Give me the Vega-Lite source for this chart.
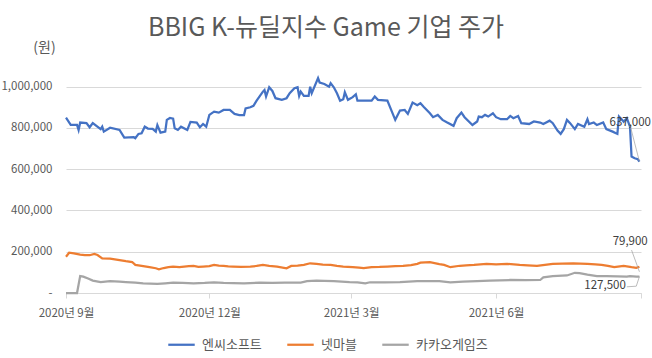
{
  "$schema": "https://vega.github.io/schema/vega-lite/v6.json",
  "width": 575,
  "height": 227,
  "autosize": {"type": "none"},
  "padding": {"left": 66, "top": 66, "right": 11, "bottom": 65},
  "background": "white",
  "config": {
    "font": "Noto Sans CJK KR",
    "view": {"stroke": null}
  },
  "title": {
    "text": "BBIG K-뉴딜지수 Game 기업 주가",
    "fontSize": 25,
    "fontWeight": "normal",
    "color": "#595959",
    "anchor": "middle",
    "frame": "group",
    "dx": -27.5,
    "dy": 5
  },
  "datasets": {
    "stocks": [
      {"d": "2020-09-01", "s": "엔씨소프트", "v": 850000},
      {"d": "2020-09-04", "s": "엔씨소프트", "v": 815000},
      {"d": "2020-09-08", "s": "엔씨소프트", "v": 815000},
      {"d": "2020-09-09", "s": "엔씨소프트", "v": 790000},
      {"d": "2020-09-10", "s": "엔씨소프트", "v": 826000},
      {"d": "2020-09-14", "s": "엔씨소프트", "v": 823000},
      {"d": "2020-09-16", "s": "엔씨소프트", "v": 803000},
      {"d": "2020-09-18", "s": "엔씨소프트", "v": 823000},
      {"d": "2020-09-23", "s": "엔씨소프트", "v": 794000},
      {"d": "2020-09-24", "s": "엔씨소프트", "v": 806000},
      {"d": "2020-09-25", "s": "엔씨소프트", "v": 782000},
      {"d": "2020-09-29", "s": "엔씨소프트", "v": 801000},
      {"d": "2020-10-05", "s": "엔씨소프트", "v": 790000},
      {"d": "2020-10-08", "s": "엔씨소프트", "v": 753000},
      {"d": "2020-10-14", "s": "엔씨소프트", "v": 755000},
      {"d": "2020-10-15", "s": "엔씨소프트", "v": 750000},
      {"d": "2020-10-17", "s": "엔씨소프트", "v": 771000},
      {"d": "2020-10-19", "s": "엔씨소프트", "v": 774000},
      {"d": "2020-10-21", "s": "엔씨소프트", "v": 806000},
      {"d": "2020-10-23", "s": "엔씨소프트", "v": 797000},
      {"d": "2020-10-26", "s": "엔씨소프트", "v": 795000},
      {"d": "2020-10-28", "s": "엔씨소프트", "v": 782000},
      {"d": "2020-10-29", "s": "엔씨소프트", "v": 814000},
      {"d": "2020-10-31", "s": "엔씨소프트", "v": 777000},
      {"d": "2020-11-03", "s": "엔씨소프트", "v": 782000},
      {"d": "2020-11-04", "s": "엔씨소프트", "v": 839000},
      {"d": "2020-11-06", "s": "엔씨소프트", "v": 848000},
      {"d": "2020-11-08", "s": "엔씨소프트", "v": 845000},
      {"d": "2020-11-09", "s": "엔씨소프트", "v": 798000},
      {"d": "2020-11-11", "s": "엔씨소프트", "v": 790000},
      {"d": "2020-11-13", "s": "엔씨소프트", "v": 806000},
      {"d": "2020-11-17", "s": "엔씨소프트", "v": 790000},
      {"d": "2020-11-19", "s": "엔씨소프트", "v": 829000},
      {"d": "2020-11-23", "s": "엔씨소프트", "v": 826000},
      {"d": "2020-11-25", "s": "엔씨소프트", "v": 803000},
      {"d": "2020-11-27", "s": "엔씨소프트", "v": 819000},
      {"d": "2020-11-29", "s": "엔씨소프트", "v": 806000},
      {"d": "2020-12-01", "s": "엔씨소프트", "v": 863000},
      {"d": "2020-12-04", "s": "엔씨소프트", "v": 879000},
      {"d": "2020-12-07", "s": "엔씨소프트", "v": 874000},
      {"d": "2020-12-10", "s": "엔씨소프트", "v": 887000},
      {"d": "2020-12-14", "s": "엔씨소프트", "v": 887000},
      {"d": "2020-12-17", "s": "엔씨소프트", "v": 868000},
      {"d": "2020-12-20", "s": "엔씨소프트", "v": 862000},
      {"d": "2020-12-23", "s": "엔씨소프트", "v": 862000},
      {"d": "2020-12-24", "s": "엔씨소프트", "v": 894000},
      {"d": "2020-12-27", "s": "엔씨소프트", "v": 900000},
      {"d": "2020-12-29", "s": "엔씨소프트", "v": 907000},
      {"d": "2020-12-31", "s": "엔씨소프트", "v": 932000},
      {"d": "2021-01-04", "s": "엔씨소프트", "v": 976000},
      {"d": "2021-01-05", "s": "엔씨소프트", "v": 984000},
      {"d": "2021-01-06", "s": "엔씨소프트", "v": 952000},
      {"d": "2021-01-08", "s": "엔씨소프트", "v": 997000},
      {"d": "2021-01-10", "s": "엔씨소프트", "v": 979000},
      {"d": "2021-01-12", "s": "엔씨소프트", "v": 944000},
      {"d": "2021-01-16", "s": "엔씨소프트", "v": 936000},
      {"d": "2021-01-19", "s": "엔씨소프트", "v": 944000},
      {"d": "2021-01-21", "s": "엔씨소프트", "v": 968000},
      {"d": "2021-01-24", "s": "엔씨소프트", "v": 992000},
      {"d": "2021-01-26", "s": "엔씨소프트", "v": 997000},
      {"d": "2021-01-27", "s": "엔씨소프트", "v": 955000},
      {"d": "2021-01-28", "s": "엔씨소프트", "v": 976000},
      {"d": "2021-01-30", "s": "엔씨소프트", "v": 955000},
      {"d": "2021-02-02", "s": "엔씨소프트", "v": 955000},
      {"d": "2021-02-03", "s": "엔씨소프트", "v": 1000000},
      {"d": "2021-02-04", "s": "엔씨소프트", "v": 968000},
      {"d": "2021-02-08", "s": "엔씨소프트", "v": 1041000},
      {"d": "2021-02-09", "s": "엔씨소프트", "v": 1020000},
      {"d": "2021-02-12", "s": "엔씨소프트", "v": 1013000},
      {"d": "2021-02-15", "s": "엔씨소프트", "v": 1000000},
      {"d": "2021-02-16", "s": "엔씨소프트", "v": 1017000},
      {"d": "2021-02-18", "s": "엔씨소프트", "v": 997000},
      {"d": "2021-02-20", "s": "엔씨소프트", "v": 968000},
      {"d": "2021-02-22", "s": "엔씨소프트", "v": 932000},
      {"d": "2021-02-24", "s": "엔씨소프트", "v": 939000},
      {"d": "2021-02-25", "s": "엔씨소프트", "v": 973000},
      {"d": "2021-02-27", "s": "엔씨소프트", "v": 936000},
      {"d": "2021-03-02", "s": "엔씨소프트", "v": 949000},
      {"d": "2021-03-04", "s": "엔씨소프트", "v": 963000},
      {"d": "2021-03-05", "s": "엔씨소프트", "v": 932000},
      {"d": "2021-03-11", "s": "엔씨소프트", "v": 932000},
      {"d": "2021-03-14", "s": "엔씨소프트", "v": 932000},
      {"d": "2021-03-16", "s": "엔씨소프트", "v": 952000},
      {"d": "2021-03-18", "s": "엔씨소프트", "v": 936000},
      {"d": "2021-03-24", "s": "엔씨소프트", "v": 932000},
      {"d": "2021-03-29", "s": "엔씨소프트", "v": 839000},
      {"d": "2021-04-01", "s": "엔씨소프트", "v": 884000},
      {"d": "2021-04-04", "s": "엔씨소프트", "v": 887000},
      {"d": "2021-04-06", "s": "엔씨소프트", "v": 868000},
      {"d": "2021-04-09", "s": "엔씨소프트", "v": 923000},
      {"d": "2021-04-12", "s": "엔씨소프트", "v": 910000},
      {"d": "2021-04-14", "s": "엔씨소프트", "v": 920000},
      {"d": "2021-04-16", "s": "엔씨소프트", "v": 903000},
      {"d": "2021-04-20", "s": "엔씨소프트", "v": 871000},
      {"d": "2021-04-22", "s": "엔씨소프트", "v": 852000},
      {"d": "2021-04-25", "s": "엔씨소프트", "v": 863000},
      {"d": "2021-04-28", "s": "엔씨소프트", "v": 839000},
      {"d": "2021-05-01", "s": "엔씨소프트", "v": 826000},
      {"d": "2021-05-05", "s": "엔씨소프트", "v": 810000},
      {"d": "2021-05-07", "s": "엔씨소프트", "v": 847000},
      {"d": "2021-05-10", "s": "엔씨소프트", "v": 874000},
      {"d": "2021-05-12", "s": "엔씨소프트", "v": 852000},
      {"d": "2021-05-17", "s": "엔씨소프트", "v": 814000},
      {"d": "2021-05-20", "s": "엔씨소프트", "v": 831000},
      {"d": "2021-05-21", "s": "엔씨소프트", "v": 855000},
      {"d": "2021-05-23", "s": "엔씨소프트", "v": 852000},
      {"d": "2021-05-25", "s": "엔씨소프트", "v": 863000},
      {"d": "2021-05-27", "s": "엔씨소프트", "v": 855000},
      {"d": "2021-05-30", "s": "엔씨소프트", "v": 871000},
      {"d": "2021-06-01", "s": "엔씨소프트", "v": 852000},
      {"d": "2021-06-04", "s": "엔씨소프트", "v": 842000},
      {"d": "2021-06-08", "s": "엔씨소프트", "v": 842000},
      {"d": "2021-06-10", "s": "엔씨소프트", "v": 858000},
      {"d": "2021-06-12", "s": "엔씨소프트", "v": 847000},
      {"d": "2021-06-15", "s": "엔씨소프트", "v": 858000},
      {"d": "2021-06-17", "s": "엔씨소프트", "v": 823000},
      {"d": "2021-06-22", "s": "엔씨소프트", "v": 819000},
      {"d": "2021-06-25", "s": "엔씨소프트", "v": 831000},
      {"d": "2021-06-29", "s": "엔씨소프트", "v": 826000},
      {"d": "2021-07-01", "s": "엔씨소프트", "v": 819000},
      {"d": "2021-07-05", "s": "엔씨소프트", "v": 835000},
      {"d": "2021-07-07", "s": "엔씨소프트", "v": 823000},
      {"d": "2021-07-10", "s": "엔씨소프트", "v": 787000},
      {"d": "2021-07-12", "s": "엔씨소프트", "v": 771000},
      {"d": "2021-07-14", "s": "엔씨소프트", "v": 794000},
      {"d": "2021-07-16", "s": "엔씨소프트", "v": 839000},
      {"d": "2021-07-18", "s": "엔씨소프트", "v": 823000},
      {"d": "2021-07-21", "s": "엔씨소프트", "v": 794000},
      {"d": "2021-07-23", "s": "엔씨소프트", "v": 819000},
      {"d": "2021-07-27", "s": "엔씨소프트", "v": 806000},
      {"d": "2021-07-29", "s": "엔씨소프트", "v": 842000},
      {"d": "2021-07-30", "s": "엔씨소프트", "v": 819000},
      {"d": "2021-08-02", "s": "엔씨소프트", "v": 826000},
      {"d": "2021-08-04", "s": "엔씨소프트", "v": 814000},
      {"d": "2021-08-08", "s": "엔씨소프트", "v": 826000},
      {"d": "2021-08-10", "s": "엔씨소프트", "v": 794000},
      {"d": "2021-08-14", "s": "엔씨소프트", "v": 782000},
      {"d": "2021-08-17", "s": "엔씨소프트", "v": 771000},
      {"d": "2021-08-18", "s": "엔씨소프트", "v": 855000},
      {"d": "2021-08-20", "s": "엔씨소프트", "v": 839000},
      {"d": "2021-08-21", "s": "엔씨소프트", "v": 830000},
      {"d": "2021-08-23", "s": "엔씨소프트", "v": 847000},
      {"d": "2021-08-25", "s": "엔씨소프트", "v": 806000},
      {"d": "2021-08-26", "s": "엔씨소프트", "v": 661000},
      {"d": "2021-08-28", "s": "엔씨소프트", "v": 653000},
      {"d": "2021-08-30", "s": "엔씨소프트", "v": 648000},
      {"d": "2021-08-31", "s": "엔씨소프트", "v": 637000},

      {"d": "2020-09-01", "s": "넷마블", "v": 176000},
      {"d": "2020-09-03", "s": "넷마블", "v": 195000},
      {"d": "2020-09-06", "s": "넷마블", "v": 192000},
      {"d": "2020-09-10", "s": "넷마블", "v": 186000},
      {"d": "2020-09-13", "s": "넷마블", "v": 184000},
      {"d": "2020-09-16", "s": "넷마블", "v": 183000},
      {"d": "2020-09-19", "s": "넷마블", "v": 189000},
      {"d": "2020-09-21", "s": "넷마블", "v": 184000},
      {"d": "2020-09-24", "s": "넷마블", "v": 168000},
      {"d": "2020-09-29", "s": "넷마블", "v": 166000},
      {"d": "2020-10-04", "s": "넷마블", "v": 160000},
      {"d": "2020-10-09", "s": "넷마블", "v": 154000},
      {"d": "2020-10-13", "s": "넷마블", "v": 150000},
      {"d": "2020-10-15", "s": "넷마블", "v": 136000},
      {"d": "2020-10-19", "s": "넷마블", "v": 131000},
      {"d": "2020-10-24", "s": "넷마블", "v": 125000},
      {"d": "2020-10-28", "s": "넷마블", "v": 120000},
      {"d": "2020-10-30", "s": "넷마블", "v": 115000},
      {"d": "2020-11-02", "s": "넷마블", "v": 121000},
      {"d": "2020-11-05", "s": "넷마블", "v": 125000},
      {"d": "2020-11-08", "s": "넷마블", "v": 128000},
      {"d": "2020-11-12", "s": "넷마블", "v": 126000},
      {"d": "2020-11-15", "s": "넷마블", "v": 128000},
      {"d": "2020-11-18", "s": "넷마블", "v": 130000},
      {"d": "2020-11-21", "s": "넷마블", "v": 131000},
      {"d": "2020-11-24", "s": "넷마블", "v": 127000},
      {"d": "2020-11-27", "s": "넷마블", "v": 128000},
      {"d": "2020-12-01", "s": "넷마블", "v": 130000},
      {"d": "2020-12-04", "s": "넷마블", "v": 136000},
      {"d": "2020-12-07", "s": "넷마블", "v": 133000},
      {"d": "2020-12-10", "s": "넷마블", "v": 131000},
      {"d": "2020-12-13", "s": "넷마블", "v": 129000},
      {"d": "2020-12-16", "s": "넷마블", "v": 128000},
      {"d": "2020-12-21", "s": "넷마블", "v": 127000},
      {"d": "2020-12-27", "s": "넷마블", "v": 128000},
      {"d": "2020-12-31", "s": "넷마블", "v": 131000},
      {"d": "2021-01-04", "s": "넷마블", "v": 136000},
      {"d": "2021-01-08", "s": "넷마블", "v": 132000},
      {"d": "2021-01-13", "s": "넷마블", "v": 128000},
      {"d": "2021-01-19", "s": "넷마블", "v": 120000},
      {"d": "2021-01-22", "s": "넷마블", "v": 131000},
      {"d": "2021-01-26", "s": "넷마블", "v": 133000},
      {"d": "2021-01-30", "s": "넷마블", "v": 136000},
      {"d": "2021-02-03", "s": "넷마블", "v": 144000},
      {"d": "2021-02-07", "s": "넷마블", "v": 141000},
      {"d": "2021-02-11", "s": "넷마블", "v": 137000},
      {"d": "2021-02-16", "s": "넷마블", "v": 136000},
      {"d": "2021-02-20", "s": "넷마블", "v": 131000},
      {"d": "2021-02-24", "s": "넷마블", "v": 128000},
      {"d": "2021-03-02", "s": "넷마블", "v": 125000},
      {"d": "2021-03-06", "s": "넷마블", "v": 123000},
      {"d": "2021-03-09", "s": "넷마블", "v": 120000},
      {"d": "2021-03-14", "s": "넷마블", "v": 125000},
      {"d": "2021-03-19", "s": "넷마블", "v": 126000},
      {"d": "2021-03-24", "s": "넷마블", "v": 128000},
      {"d": "2021-03-29", "s": "넷마블", "v": 130000},
      {"d": "2021-04-03", "s": "넷마블", "v": 131000},
      {"d": "2021-04-08", "s": "넷마블", "v": 135000},
      {"d": "2021-04-12", "s": "넷마블", "v": 141000},
      {"d": "2021-04-14", "s": "넷마블", "v": 147000},
      {"d": "2021-04-20", "s": "넷마블", "v": 150000},
      {"d": "2021-04-26", "s": "넷마블", "v": 140000},
      {"d": "2021-04-29", "s": "넷마블", "v": 136000},
      {"d": "2021-05-03", "s": "넷마블", "v": 125000},
      {"d": "2021-05-09", "s": "넷마블", "v": 132000},
      {"d": "2021-05-13", "s": "넷마블", "v": 134000},
      {"d": "2021-05-18", "s": "넷마블", "v": 136000},
      {"d": "2021-05-26", "s": "넷마블", "v": 141000},
      {"d": "2021-06-01", "s": "넷마블", "v": 139000},
      {"d": "2021-06-08", "s": "넷마블", "v": 141000},
      {"d": "2021-06-16", "s": "넷마블", "v": 136000},
      {"d": "2021-06-21", "s": "넷마블", "v": 134000},
      {"d": "2021-06-27", "s": "넷마블", "v": 131000},
      {"d": "2021-07-02", "s": "넷마블", "v": 136000},
      {"d": "2021-07-07", "s": "넷마블", "v": 141000},
      {"d": "2021-07-13", "s": "넷마블", "v": 142000},
      {"d": "2021-07-20", "s": "넷마블", "v": 144000},
      {"d": "2021-07-29", "s": "넷마블", "v": 141000},
      {"d": "2021-08-03", "s": "넷마블", "v": 139000},
      {"d": "2021-08-07", "s": "넷마블", "v": 136000},
      {"d": "2021-08-11", "s": "넷마블", "v": 131000},
      {"d": "2021-08-15", "s": "넷마블", "v": 125000},
      {"d": "2021-08-21", "s": "넷마블", "v": 131000},
      {"d": "2021-08-26", "s": "넷마블", "v": 125000},
      {"d": "2021-08-29", "s": "넷마블", "v": 122000},
      {"d": "2021-08-31", "s": "넷마블", "v": 127500},

      {"d": "2020-09-01", "s": "카카오게임즈", "v": 0},
      {"d": "2020-09-08", "s": "카카오게임즈", "v": 0},
      {"d": "2020-09-10", "s": "카카오게임즈", "v": 82000},
      {"d": "2020-09-12", "s": "카카오게임즈", "v": 79000},
      {"d": "2020-09-15", "s": "카카오게임즈", "v": 70000},
      {"d": "2020-09-18", "s": "카카오게임즈", "v": 60000},
      {"d": "2020-09-23", "s": "카카오게임즈", "v": 53000},
      {"d": "2020-09-29", "s": "카카오게임즈", "v": 58000},
      {"d": "2020-10-05", "s": "카카오게임즈", "v": 55000},
      {"d": "2020-10-09", "s": "카카오게임즈", "v": 53000},
      {"d": "2020-10-15", "s": "카카오게임즈", "v": 50000},
      {"d": "2020-10-20", "s": "카카오게임즈", "v": 47000},
      {"d": "2020-10-29", "s": "카카오게임즈", "v": 44000},
      {"d": "2020-11-03", "s": "카카오게임즈", "v": 47000},
      {"d": "2020-11-08", "s": "카카오게임즈", "v": 50000},
      {"d": "2020-11-14", "s": "카카오게임즈", "v": 49000},
      {"d": "2020-11-21", "s": "카카오게임즈", "v": 47000},
      {"d": "2020-11-28", "s": "카카오게임즈", "v": 49000},
      {"d": "2020-12-04", "s": "카카오게임즈", "v": 52000},
      {"d": "2020-12-10", "s": "카카오게임즈", "v": 49000},
      {"d": "2020-12-16", "s": "카카오게임즈", "v": 48000},
      {"d": "2020-12-23", "s": "카카오게임즈", "v": 47000},
      {"d": "2021-01-02", "s": "카카오게임즈", "v": 50000},
      {"d": "2021-01-10", "s": "카카오게임즈", "v": 49000},
      {"d": "2021-01-18", "s": "카카오게임즈", "v": 50000},
      {"d": "2021-01-28", "s": "카카오게임즈", "v": 50000},
      {"d": "2021-02-01", "s": "카카오게임즈", "v": 57000},
      {"d": "2021-02-07", "s": "카카오게임즈", "v": 60000},
      {"d": "2021-02-12", "s": "카카오게임즈", "v": 59000},
      {"d": "2021-02-18", "s": "카카오게임즈", "v": 57000},
      {"d": "2021-02-28", "s": "카카오게임즈", "v": 53000},
      {"d": "2021-03-05", "s": "카카오게임즈", "v": 52000},
      {"d": "2021-03-10", "s": "카카오게임즈", "v": 47000},
      {"d": "2021-03-13", "s": "카카오게임즈", "v": 52000},
      {"d": "2021-03-22", "s": "카카오게임즈", "v": 52000},
      {"d": "2021-04-01", "s": "카카오게임즈", "v": 53000},
      {"d": "2021-04-12", "s": "카카오게임즈", "v": 58000},
      {"d": "2021-04-26", "s": "카카오게임즈", "v": 57000},
      {"d": "2021-05-03", "s": "카카오게임즈", "v": 52000},
      {"d": "2021-05-11", "s": "카카오게임즈", "v": 55000},
      {"d": "2021-05-20", "s": "카카오게임즈", "v": 57000},
      {"d": "2021-05-28", "s": "카카오게임즈", "v": 60000},
      {"d": "2021-06-10", "s": "카카오게임즈", "v": 63000},
      {"d": "2021-06-20", "s": "카카오게임즈", "v": 62000},
      {"d": "2021-06-29", "s": "카카오게임즈", "v": 63000},
      {"d": "2021-07-01", "s": "카카오게임즈", "v": 76000},
      {"d": "2021-07-07", "s": "카카오게임즈", "v": 82000},
      {"d": "2021-07-16", "s": "카카오게임즈", "v": 85000},
      {"d": "2021-07-21", "s": "카카오게임즈", "v": 98000},
      {"d": "2021-07-24", "s": "카카오게임즈", "v": 96000},
      {"d": "2021-07-29", "s": "카카오게임즈", "v": 89000},
      {"d": "2021-08-04", "s": "카카오게임즈", "v": 82000},
      {"d": "2021-08-10", "s": "카카오게임즈", "v": 82000},
      {"d": "2021-08-17", "s": "카카오게임즈", "v": 80000},
      {"d": "2021-08-23", "s": "카카오게임즈", "v": 79000},
      {"d": "2021-08-25", "s": "카카오게임즈", "v": 82000},
      {"d": "2021-08-29", "s": "카카오게임즈", "v": 79000},
      {"d": "2021-08-31", "s": "카카오게임즈", "v": 79900}
    ],
    "leaders": [
      {"id": "a", "d": "2021-08-25", "v": 815000},
      {"id": "a", "d": "2021-08-31", "v": 637000},
      {"id": "b", "d": "2021-08-26", "v": 208000},
      {"id": "b", "d": "2021-08-31", "v": 103000},
      {"id": "c", "d": "2021-08-23", "v": 30000},
      {"id": "c", "d": "2021-08-29", "v": 33000},
      {"id": "c", "d": "2021-08-31", "v": 79900}
    ],
    "labels": [
      {"t": "637,000", "d": "2021-08-12", "v": 824000},
      {"t": "79,900", "d": "2021-08-14", "v": 247000},
      {"t": "127,500", "d": "2021-07-27", "v": 34000}
    ]
  },
  "encoding": {
    "x": {
      "field": "d",
      "type": "temporal",
      "scale": {
        "type": "utc",
        "domain": [
          {"year": 2020, "month": 9, "date": 1, "utc": true},
          {"year": 2021, "month": 9, "date": 1, "utc": true}
        ]
      },
      "axis": {
        "title": null,
        "grid": false,
        "values": [
          {"year": 2020, "month": 9, "date": 1, "utc": true},
          {"year": 2020, "month": 12, "date": 1, "utc": true},
          {"year": 2021, "month": 3, "date": 1, "utc": true},
          {"year": 2021, "month": 6, "date": 1, "utc": true},
          {"year": 2021, "month": 9, "date": 1, "utc": true}
        ],
        "labelExpr": "utcyear(datum.value) == 2021 && utcmonth(datum.value) == 8 ? '' : utcFormat(datum.value, '%Y년 %-m월')",
        "labelOverlap": false,
        "labelFlush": false,
        "labelFontSize": 11.5,
        "labelColor": "#595959",
        "labelPadding": 9,
        "domainColor": "#d9d9d9",
        "tickColor": "#d9d9d9",
        "tickSize": 5
      }
    },
    "y": {
      "field": "v",
      "type": "quantitative",
      "scale": {"domain": [0, 1100000], "nice": false},
      "axis": {
        "title": "(원)",
        "titleAngle": 0,
        "titleX": -22,
        "titleY": -19,
        "titleAlign": "center",
        "titleBaseline": "middle",
        "titleFontSize": 14,
        "titleFontWeight": "normal",
        "titleColor": "#595959",
        "values": [0, 200000, 400000, 600000, 800000, 1000000],
        "labelExpr": "datum.value == 0 ? '-' : format(datum.value, ',')",
        "labelFontSize": 11.5,
        "labelColor": "#595959",
        "labelPadding": 14,
        "ticks": false,
        "tickSize": 0,
        "domain": false,
        "grid": true,
        "gridColor": "#d9d9d9",
        "gridWidth": 1
      }
    }
  },
  "layer": [
    {
      "data": {"name": "stocks"},
      "mark": {"type": "line", "strokeWidth": 2.25, "interpolate": "linear"},
      "encoding": {
        "color": {
          "field": "s",
          "type": "nominal",
          "scale": {
            "domain": ["엔씨소프트", "넷마블", "카카오게임즈"],
            "range": ["#4472C4", "#ED7D31", "#A5A5A5"]
          },
          "legend": {
            "title": null,
            "orient": "none",
            "legendX": 101,
            "legendY": 264,
            "direction": "horizontal",
            "symbolType": "stroke",
            "symbolSize": 700,
            "symbolStrokeWidth": 2.25,
            "labelFontSize": 13,
            "labelColor": "#595959",
            "labelOffset": 6,
            "columnPadding": 20,
            "padding": 0
          }
        }
      }
    },
    {
      "data": {"name": "leaders"},
      "mark": {"type": "line", "color": "#a6a6a6", "strokeWidth": 0.75},
      "encoding": {
        "detail": {"field": "id", "type": "nominal"}
      }
    },
    {
      "data": {"name": "labels"},
      "mark": {"type": "text", "align": "left", "baseline": "middle", "fontSize": 11.5, "color": "#404040"},
      "encoding": {
        "text": {"field": "t", "type": "nominal"}
      }
    }
  ]
}
